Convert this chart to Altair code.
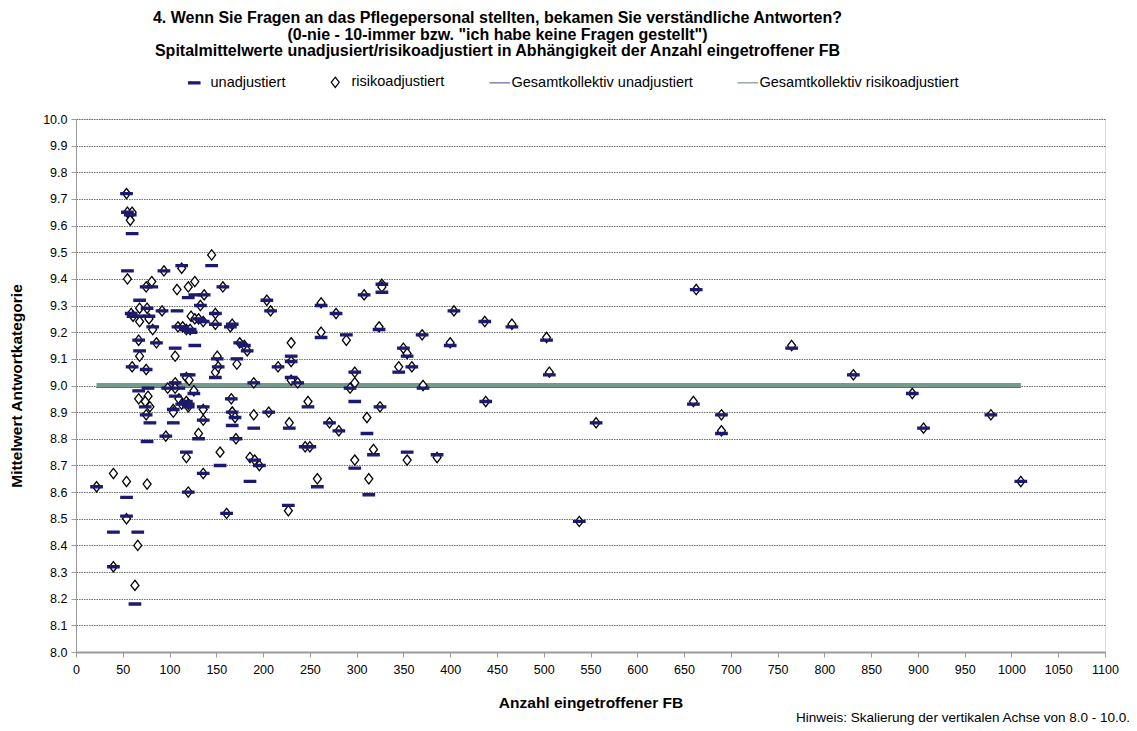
import altair as alt
import pandas as pd

# Hospital data: number of questionnaires received (FB) and hospital means
hosp_x = [22, 40, 40, 54, 54, 66, 63, 76, 75, 79, 67, 77, 74,
          54, 55, 58, 60, 55, 59, 61, 68, 68, 67, 68, 60, 75, 75, 81, 76, 78, 82, 86, 92, 94,
          98, 106, 106, 110, 113, 120, 104, 106, 108, 113, 120, 127, 123, 127, 109, 114, 118, 122,
          118, 121, 126, 137, 133, 131, 136, 145, 149, 149, 151, 149, 152, 157, 165, 167, 172,
          166, 167, 175, 180, 183, 190, 190, 186, 191, 196,
          96, 104, 118, 120, 118, 120, 131, 136, 136, 136, 154, 161, 167, 170, 171,
          204, 208, 206, 216, 230, 230, 230, 237, 228, 227, 248, 245, 250, 258, 262, 262, 271,
          278, 281, 289, 293, 298, 298, 298, 308, 311, 313, 318, 325, 324, 327, 327, 345, 350,
          354, 359, 354, 370, 371, 386, 400, 404,
          437, 438, 466, 503, 506, 538, 556, 660, 663, 690, 690, 765, 831, 894, 906, 978, 1010]
unadj = [8.62, 8.45, 8.32, 8.58, 8.51, 8.45, 8.18, 8.79, 8.89, 8.86, 8.98, 8.99, 8.92,
         9.72, 9.65, 9.64, 9.57, 9.43, 9.27, 9.26, 9.32, 9.26, 9.17, 9.13, 9.07, 9.06, 9.37, 9.37, 9.29, 9.26, 9.22, 9.16, 9.28, 9.43,
         8.99, 9.01, 8.96, 8.99, 8.93, 8.92, 8.91, 9.14, 9.28, 9.45, 9.33, 9.34, 9.20, 9.15, 9.22, 9.22, 9.21, 9.21,
         9.04, 9.04, 8.97, 9.34, 9.30, 9.25, 9.24, 9.45, 9.27, 9.23, 9.10, 9.03, 9.07, 9.37, 9.22, 9.23, 9.10,
         8.95, 8.90, 9.16, 9.15, 9.13, 9.01, 8.84, 8.64, 8.72, 8.70,
         8.81, 8.86, 8.94, 8.93, 8.75, 8.60, 8.80, 8.92, 8.87, 8.67, 8.70, 8.52, 8.85, 8.88, 8.80,
         9.32, 9.28, 8.90, 9.07, 9.11, 9.09, 9.03, 9.01, 8.84, 8.55, 8.92, 8.77, 8.77, 8.62, 9.30, 9.18, 8.86,
         9.27, 8.83, 9.19, 8.99, 9.05, 8.94, 8.69, 9.34, 8.82, 8.59, 8.74, 8.92, 9.21, 9.35, 9.38, 9.05, 9.14,
         9.11, 9.07, 8.75, 9.19, 8.99, 8.74, 9.15, 9.28,
         9.24, 8.94, 9.22, 9.17, 9.04, 8.49, 8.86, 8.93, 9.36, 8.89, 8.82, 9.14, 9.04, 8.97, 8.84, 8.89, 8.64]
adj = [8.62, 8.67, 8.32, 8.64, 8.50, 8.40, 8.25, 8.63, 8.89, 8.92, 8.95, 8.96, 8.94,
       9.72, 9.65, 9.62, 9.65, 9.40, 9.27, 9.26, 9.29, 9.24, 9.17, 9.11, 9.07, 9.06, 9.37, 9.39, 9.29, 9.25, 9.21, 9.16, 9.28, 9.43,
       8.99, 9.01, 8.99, 8.95, 8.93, 8.92, 8.91, 9.11, 9.36, 9.44, 9.37, 9.39, 9.26, 9.25, 9.22, 9.22, 9.21, 9.21,
       9.03, 9.02, 8.98, 9.34, 9.30, 9.25, 9.24, 9.49, 9.27, 9.23, 9.11, 9.05, 9.07, 9.37, 9.22, 9.23, 9.08,
       8.95, 8.90, 9.16, 9.15, 9.13, 9.01, 8.89, 8.73, 8.72, 8.70,
       8.81, 8.90, 8.94, 8.93, 8.73, 8.60, 8.82, 8.91, 8.87, 8.67, 8.75, 8.52, 8.90, 8.88, 8.80,
       9.32, 9.28, 8.90, 9.07, 9.16, 9.09, 9.02, 9.01, 8.86, 8.53, 8.94, 8.77, 8.77, 8.65, 9.31, 9.20, 8.86,
       9.27, 8.83, 9.17, 8.99, 9.05, 9.01, 8.72, 9.34, 8.88, 8.65, 8.76, 8.92, 9.22, 9.38, 9.37, 9.07, 9.14,
       9.12, 9.07, 8.72, 9.19, 9.00, 8.73, 9.16, 9.28,
       9.24, 8.94, 9.23, 9.18, 9.05, 8.49, 8.86, 8.94, 9.36, 8.89, 8.83, 9.15, 9.04, 8.97, 8.84, 8.89, 8.64]

gesamt_unadj = 9.00
gesamt_adj = 9.00

series = ["unadjustiert", "risikoadjustiert",
          "Gesamtkollektiv unadjustiert", "Gesamtkollektiv risikoadjustiert"]
x_ticks = list(range(0, 1101, 50))
y_ticks = [round(8.0 + 0.1 * i, 1) for i in range(21)]

title_lines = [
    "4. Wenn Sie Fragen an das Pflegepersonal stellten, bekamen Sie verständliche Antworten?",
    "(0-nie - 10-immer bzw. \"ich habe keine Fragen gestellt\")",
    "Spitalmittelwerte unadjusiert/risikoadjustiert in Abhängigkeit der Anzahl eingetroffener FB",
]
footnote = "Hinweis: Skalierung der vertikalen Achse von 8.0 - 10.0."

FONT = "Liberation Sans"
NAVY = "#1c1a6e"
GREEN = "#739a8d"
PURPLE = "#6b5f9e"

pts = pd.concat([
    pd.DataFrame({"fb": hosp_x, "mw": adj, "serie": series[1]}),
    pd.DataFrame({"fb": hosp_x, "mw": unadj, "serie": series[0]}),
], ignore_index=True)

shape_scale = alt.Scale(domain=series, range=[
    "M-1,-0.18H1V0.18H-1Z", "M0,-0.9L0.7,0L0,0.9L-0.7,0Z", "M-1,0H2.6", "M-1,0H2.6"])
fill_scale = alt.Scale(domain=series, range=[NAVY, "#ffffff", "transparent", "transparent"])
stroke_scale = alt.Scale(domain=series, range=[NAVY, "#000000", PURPLE, GREEN])

leg = alt.Legend(title=None, orient="none", direction="horizontal",
                 legendX=111, legendY=-44, labelFont=FONT, labelFontSize=14.5,
                 labelColor="#000000", symbolSize=130, symbolStrokeWidth=1.2,
                 labelOffset=9, columnPadding=42, labelLimit=0)

x_scale = alt.Scale(domain=[0, 1100], nice=False, zero=False)
y_scale = alt.Scale(domain=[8.0, 10.0], nice=False, zero=False)
x_axis = alt.Axis(values=x_ticks, format="d", grid=False, title="Anzahl eingetroffener FB",
                  labelFont=FONT, labelFontSize=12.5, labelColor="#000000",
                  titleFont=FONT, titleFontSize=15.5, titleFontWeight="bold",
                  titleColor="#000000", titlePadding=20, labelPadding=6,
                  domainColor="#9a9a9a", domainWidth=2, tickColor="#9a9a9a",
                  tickSize=5, labelFlush=False, labelOverlap=False)
y_axis = alt.Axis(values=y_ticks, tickCount=21, format=".1f", grid=True, gridColor="#6e6e6e",
                  gridDash=[1.5, 1], gridWidth=1.1, title="Mittelwert Antwortkategorie",
                  labelFont=FONT, labelFontSize=12.5, labelColor="#000000",
                  titleFont=FONT, titleFontSize=15.5, titleFontWeight="bold",
                  titleColor="#000000", titlePadding=18, labelPadding=4,
                  domainColor="#9a9a9a", domainWidth=1, tickColor="#9a9a9a",
                  tickSize=5, labelOverlap=False, labelFlush=False)

lines_df = pd.DataFrame({"x1": [min(hosp_x)], "x2": [max(hosp_x)],
                         "ya": [gesamt_adj], "yu": [gesamt_unadj]})

line_adj = alt.Chart(lines_df).mark_rule(strokeWidth=5, color=GREEN).encode(
    x=alt.X("x1:Q", scale=x_scale, axis=x_axis), x2="x2:Q",
    y=alt.Y("ya:Q", scale=y_scale, axis=y_axis))
line_unadj = alt.Chart(lines_df).mark_rule(strokeWidth=1.2, color=PURPLE, yOffset=2).encode(
    x=alt.X("x1:Q", scale=x_scale, axis=x_axis), x2="x2:Q",
    y=alt.Y("yu:Q", scale=y_scale, axis=y_axis))

points = alt.Chart(pts).mark_point(filled=True, size=130, strokeWidth=1.3, opacity=1).encode(
    x=alt.X("fb:Q", scale=x_scale, axis=x_axis),
    y=alt.Y("mw:Q", scale=y_scale, axis=y_axis),
    shape=alt.Shape("serie:N", scale=shape_scale, legend=leg),
    fill=alt.Fill("serie:N", scale=fill_scale, legend=leg),
    stroke=alt.Stroke("serie:N", scale=stroke_scale, legend=leg),
)

note = alt.Chart(pd.DataFrame({"t": [footnote]})).mark_text(
    align="right", baseline="middle", font=FONT, fontSize=13.5, color="#000000").encode(
    text="t:N", x=alt.value(1054), y=alt.value(599))

chart = alt.layer(line_adj, line_unadj, points, note).properties(
    width=1029, height=533,
    title=alt.TitleParams(text=title_lines, font=FONT, fontSize=16, fontWeight="bold",
                          color="#000000", anchor="middle", dx=-93, offset=16,
                          lineHeight=16.5),
    autosize=alt.AutoSizeParams(type="none"),
    padding={"left": 76, "top": 119, "right": 32, "bottom": 79},
).configure_view(stroke=None).configure(background="#ffffff")

chart.save("out.html", embed_options={"renderer": "svg", "actions": False})
